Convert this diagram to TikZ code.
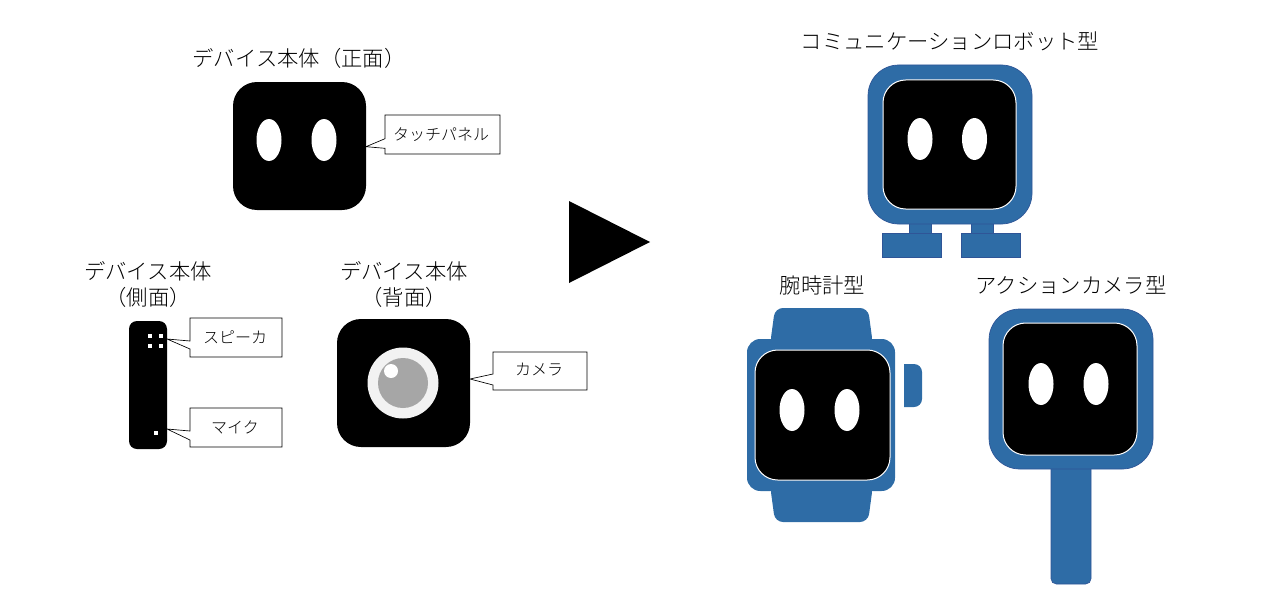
\documentclass[tikz,border=0pt]{standalone}
\usepackage{fontspec}
\setmainfont{Noto Sans CJK JP Light}
\definecolor{bodyblue}{HTML}{2E6CA6}
\definecolor{edgeblue}{HTML}{2F5597}
\definecolor{ringgray}{HTML}{F2F2F2}
\definecolor{lensgray}{HTML}{A6A6A6}
\tikzset{
  x=0.75pt,y=-0.75pt,
  title/.style={font=\fontsize{16}{19.5}\selectfont,align=center,inner sep=0pt},
  note/.style={font=\fontsize{12}{14}\selectfont,inner sep=0pt},
  callout/.style={draw=black,fill=white,line width=0.5pt,line join=miter},
  eye/.style={fill=white,draw=none},
  face/.style={fill=black,draw=none},
  screen/.style={fill=black,draw=white,line width=0.75pt},
  shell/.style={fill=bodyblue,draw=edgeblue,line width=0.5pt},
  band/.style={fill=bodyblue,draw=none},
}
\newcommand{\eyes}[3]{%
  \fill[eye] (#1,#3) ellipse [x radius=12.5,y radius=21];
  \fill[eye] (#2,#3) ellipse [x radius=12.5,y radius=21];}
\begin{document}
\begin{tikzpicture}
\useasboundingbox (0,0) rectangle (1280,610);
% front
\node[title] (tfront) at (299,58.5) {デバイス本体（正面）};
\fill[face,rounded corners=18pt] (233,82) rectangle (366,210);
\eyes{269}{324}{140}
\draw[callout] (385,115) -- (500,115) -- (500,154) -- (385,154) -- (385,148.3) -- (366,146.7) -- (385,138.7) -- cycle;
\node[note] (ntouch) at (441,135) {タッチパネル};
% side
\node[title] (tside) at (148,284) {デバイス本体\\（側面）};
\fill[face,rounded corners=6pt] (129,321) rectangle (167,449);
\foreach \px in {150,161}\foreach \py in {336,346}
  \fill[white] (\px-2,\py-2) rectangle (\px+2,\py+2);
\fill[white] (154,431) rectangle (158,435);
\draw[callout] (190,318) -- (282,318) -- (282,357) -- (190,357) -- (190,349) -- (167,339) -- (190,341) -- cycle;
\node[note] (nspeak) at (235,337) {スピーカ};
\draw[callout] (190,408) -- (282,408) -- (282,447) -- (190,447) -- (190,440) -- (167,429) -- (190,431) -- cycle;
\node[note] (nmic) at (235,427) {マイク};
% back
\node[title] (tback) at (404,284) {デバイス本体\\（背面）};
\fill[face,rounded corners=18pt] (337,319) rectangle (470,447);
\fill[ringgray] (403,383) circle (35.5);
\fill[lensgray] (403,383) circle (25);
\fill[white] (391,371) circle (7);
\draw[callout] (493,352) -- (587,352) -- (587,390) -- (493,390) -- (493,385) -- (470,379) -- (493,374) -- cycle;
\node[note] (ncam) at (539,370) {カメラ};
% arrow
\fill[black] (569,201) -- (650,242) -- (569,283) -- cycle;
% robot
\node[title] (trobot) at (950,41) {コミュニケーションロボット型};
\draw[shell] (909,220) rectangle (931,236);
\draw[shell] (971,220) rectangle (993,236);
\draw[shell] (882,233) rectangle (941,257.5);
\draw[shell] (961,233) rectangle (1020,257.5);
\draw[shell,rounded corners=23pt] (868,65) rectangle (1032,224);
\draw[screen,rounded corners=17pt] (883,80) rectangle (1016,209);
\eyes{920}{974.5}{139}
% watch
\node[title] (twatch) at (822.5,285) {腕時計型};
\fill[band,rounded corners=6pt] (770,345) -- (775,308) -- (868,308) -- (873,345) -- cycle;
\fill[band,rounded corners=6pt] (770,485) -- (775,522) -- (868,522) -- (873,485) -- cycle;
\fill[band,rounded corners=10pt] (747,339) rectangle (895,491);
\draw[screen,rounded corners=17pt] (755,350) rectangle (890,480);
\eyes{792}{847}{410}
\fill[band] (904,364) -- (914,364) .. controls (918.4,364) and (922,367.6) .. (922,372) -- (922,399) .. controls (922,403.4) and (918.4,407) .. (914,407) -- (904,407) -- cycle;
% action camera
\node[title] (taction) at (1071,285) {アクションカメラ型};
\draw[shell,rounded corners=4pt] (1051,460) rectangle (1091,584);
\draw[shell,rounded corners=23pt] (989,309) rectangle (1153,469);
\draw[screen,rounded corners=17pt] (1003,323) rectangle (1137,455);
\eyes{1041}{1096}{384}
\end{tikzpicture}
\end{document}
